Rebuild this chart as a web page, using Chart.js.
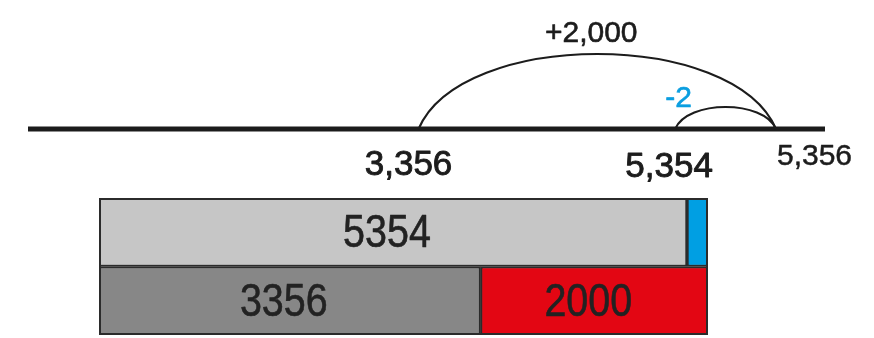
<!DOCTYPE html>
<html>
<head>
<meta charset="utf-8">
<script src="https://cdn.jsdelivr.net/npm/chart.js@4/dist/chart.umd.min.js"></script>
<style>
  body { margin: 0; background: #fff; }
  #lineBox { position: absolute; left: 0; top: 0; }
  #barBox { position: absolute; left: 0; top: 190px; }
</style>
</head>
<body>
<div id="lineBox"><canvas id="numberLine" width="874" height="190"></canvas></div>
<div id="barBox"><canvas id="barModel" width="874" height="148"></canvas></div>
<script>
// Number line values and the two jumps
const lineValues = [3356, 5354, 5356];
const lineLabels = ['3,356', '5,354', '5,356'];
const jumpFrom = [3356, 5356];
const jumpTo = [5356, 5354];
const jumpLabels = ['+2,000', '-2'];

// Bar model rows (left part + right part)
const rowNames = ['Total', 'Parts'];
const leftParts = [5354, 3356];
const rightParts = [2, 2000];
const leftLabels = ['5354', '3356'];
const rightLabels = ['', '2000'];

// the number line is drawn "not to scale": where each value sits along it (0..1)
const notchSlot = { 3356: 0.49, 5354: 0.812, 5356: 0.9385 };

const ink = '#1c1c1c';
const sansFont = '"Liberation Sans", Arial, sans-serif';

// label layout for the number line
const valueFont = [35, 35, 30];
const valueAlign = ['center', 'center', 'left'];
const valueDx = [-10, -6, 1];
const valueDy = [46, 48, 36];

const jumpRise = [75, 22];
const jumpColor = [ink, '#0a9ee0'];
const jumpDx = [-6, -47];
const jumpDy = [-12, 0];

function heavyText(ctx, text, x, y, weight) {
  ctx.lineWidth = weight;
  ctx.lineJoin = 'round';
  ctx.strokeStyle = ctx.fillStyle;
  ctx.strokeText(text, x, y);
  ctx.fillText(text, x, y);
}

const arcsAndText = {
  id: 'arcsAndText',
  afterDatasetsDraw(chart) {
    const ctx = chart.ctx;
    const xs = chart.scales.x, ys = chart.scales.y;
    const y0 = ys.getPixelForValue(0);
    ctx.save();
    jumpFrom.forEach((from, i) => {
      const x1 = xs.getPixelForValue(notchSlot[from]);
      const x2 = xs.getPixelForValue(notchSlot[jumpTo[i]]);
      const l = Math.min(x1, x2), r = Math.max(x1, x2), w = r - l;
      const cx = (l + r) / 2, top = y0 - jumpRise[i] * 4 / 3;
      ctx.beginPath();
      ctx.moveTo(l, y0);
      ctx.bezierCurveTo(l + 0.12 * w, top, r - 0.12 * w, top, r, y0);
      ctx.lineWidth = 2.2;
      ctx.strokeStyle = ink;
      ctx.stroke();
      ctx.font = '30px ' + sansFont;
      ctx.fillStyle = jumpColor[i];
      ctx.textAlign = 'center';
      ctx.textBaseline = 'alphabetic';
      heavyText(ctx, jumpLabels[i], cx + jumpDx[i], y0 - jumpRise[i] + jumpDy[i], 0.6);
    });
    lineValues.forEach((v, i) => {
      const x = xs.getPixelForValue(notchSlot[v]);
      ctx.font = valueFont[i] + 'px ' + sansFont;
      ctx.fillStyle = ink;
      ctx.textAlign = valueAlign[i];
      ctx.textBaseline = 'alphabetic';
      heavyText(ctx, lineLabels[i], x + valueDx[i], y0 + valueDy[i], i < 2 ? 0.9 : 0.5);
    });
    ctx.restore();
  }
};

new Chart(document.getElementById('numberLine'), {
  type: 'scatter',
  data: {
    datasets: [{
      data: [{ x: 0, y: 0 }, { x: 1, y: 0 }],
      showLine: true,
      borderColor: ink,
      borderWidth: 5,
      pointRadius: 0,
      clip: false
    }]
  },
  options: {
    responsive: false,
    animation: false,
    events: [],
    layout: { padding: { left: 28, right: 49, top: 0, bottom: 61 } },
    scales: {
      x: { type: 'linear', min: 0, max: 1, display: false },
      y: { type: 'linear', min: 0, max: 1, display: false }
    },
    plugins: { legend: { display: false }, tooltip: { enabled: false } }
  },
  plugins: [arcsAndText]
});

const barText = {
  id: 'barText',
  afterDatasetsDraw(chart) {
    const ctx = chart.ctx;
    const a = chart.chartArea;
    ctx.save();
    ctx.strokeStyle = '#2b2b2b';
    ctx.lineWidth = 2;
    ctx.strokeRect(a.left + 1, a.top + 1, a.right - a.left - 2, a.bottom - a.top - 2);
    const texts = [rightLabels, leftLabels];
    ctx.font = '47px ' + sansFont;
    ctx.fillStyle = '#222';
    ctx.textAlign = 'center';
    ctx.textBaseline = 'middle';
    chart.data.datasets.forEach((ds, d) => {
      chart.getDatasetMeta(d).data.forEach((el, i) => {
        if (!texts[d][i]) return;
        const left = Math.max(Math.min(el.x, el.base), a.left);
        const right = Math.min(Math.max(el.x, el.base), a.right);
        ctx.save();
        ctx.translate((left + right) / 2 - 6, el.y + 2);
        ctx.scale(0.84, 1);
        heavyText(ctx, texts[d][i], 0, 0, 0.6);
        ctx.restore();
      });
    });
    ctx.restore();
  }
};

new Chart(document.getElementById('barModel'), {
  type: 'bar',
  data: {
    labels: rowNames,
    datasets: [
      {
        data: rightParts,
        backgroundColor: ['#009fe3', '#e30613'],
        minBarLength: 21
      },
      {
        data: leftParts,
        backgroundColor: ['#c6c6c6', '#878787']
      }
    ]
  },
  options: {
    indexAxis: 'y',
    responsive: false,
    animation: false,
    events: [],
    layout: { padding: { left: 99, right: 166, top: 8, bottom: 3 } },
    datasets: {
      bar: {
        categoryPercentage: 1,
        barPercentage: 1,
        borderColor: '#2b2b2b',
        borderWidth: 2,
        borderSkipped: false,
        clip: 0
      }
    },
    scales: {
      x: { stacked: true, reverse: true, min: 0, max: 5356, display: false },
      y: { stacked: true, display: false }
    },
    plugins: { legend: { display: false }, tooltip: { enabled: false } }
  },
  plugins: [barText]
});
</script>
</body>
</html>
